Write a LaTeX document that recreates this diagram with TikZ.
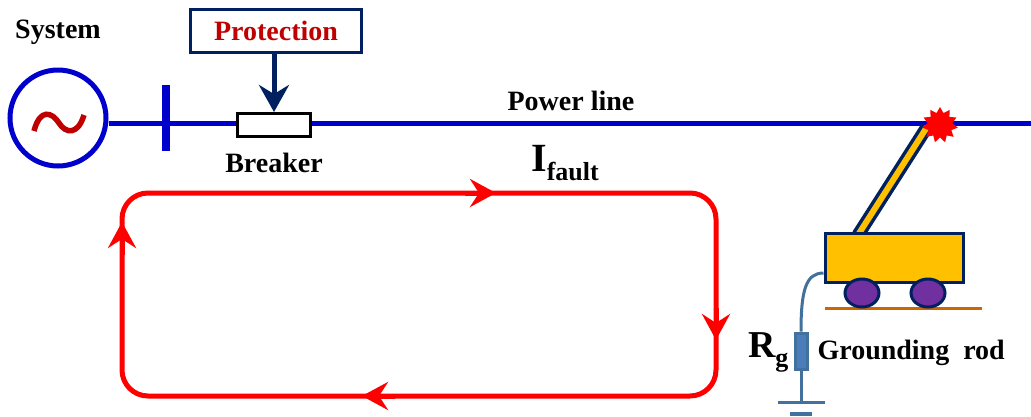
\documentclass[tikz,border=0pt]{standalone}
\usepackage{fontspec}
\setmainfont{Liberation Serif}
\usetikzlibrary{arrows.meta}
\usetikzlibrary{shapes.geometric}
\definecolor{lineblue}{RGB}{0,0,204}
\definecolor{navy}{RGB}{0,32,96}
\definecolor{darkred}{RGB}{192,0,0}
\definecolor{faultred}{RGB}{255,0,0}
\definecolor{gold}{RGB}{255,192,0}
\definecolor{wheelpurple}{RGB}{112,48,160}
\definecolor{earth}{RGB}{204,102,0}
\definecolor{steel}{RGB}{65,113,156}
\definecolor{steelfill}{RGB}{74,126,187}

\begin{document}
\begin{tikzpicture}[x=1pt, y=-1pt,
  lbl/.style={font=\fontsize{28}{32}\selectfont\bfseries},
  wire/.style={lineblue, line width=5pt},
  flow/.style={faultred, line width=5pt},
  flowtip/.style={faultred, line width=5pt, -{Stealth[length=26pt, width=28pt, inset=9pt]}}]
  \useasboundingbox (0,0) rectangle (1031,416);

  % Source and bus
  \node[circle, draw=lineblue, line width=5pt, minimum size=96pt, inner sep=0] (gen) at (58,118) {};
  \draw[darkred, line width=5.5pt]
    (34,131) .. controls (40,108) and (52,112) .. (59,123) .. controls (66,134) and (78,135) .. (84,115);
  \node[lbl] (sys) at (58,32) {System};
  \draw[lineblue, line width=8pt] (166,85) -- (166,151);

  % Breaker with its relay
  \node[draw, line width=3pt, fill=white, minimum width=73pt, minimum height=23pt, inner sep=0] (brk) at (274,125) {};
  \node[lbl, below=12pt] (brklbl) at (brk.south) {Breaker};
  \node[draw=navy, line width=3pt, minimum width=171pt, minimum height=43pt, inner sep=0,
        lbl, text=darkred] (prot) at (276,31) {Protection};
  \draw[navy, line width=5pt, -{Stealth[length=27pt, width=30pt, inset=9pt]}] (prot.south -| brk.north) -- (brk.north);

  % Power line
  \coordinate (lineend) at (1031,123);
  \draw[wire] (gen.east |- 0,123) -- (brk.west |- 0,123);
  \draw[wire] (brk.east |- 0,123) -- (lineend);
  \node[lbl] (pline) at (571,101) {Power line};

  % Fault current loop
  \draw[flow, rounded corners=26pt] (122,193) rectangle (716,396);
  \draw[flowtip] (465,193) -- (496,193);
  \draw[flowtip] (716,308) -- (716,340);
  \draw[flowtip] (395,396) -- (362,396);
  \draw[flowtip] (122,255) -- (122,222);
  \node[font=\fontsize{40}{44}\selectfont\bfseries] (ifault) at (565,163)
    {I\raisebox{-9pt}{\fontsize{26}{28}\selectfont fault}};

  % Truck with boom touching the line
  \draw[navy, line width=13pt] (858,235) -- (927,127);
  \draw[gold, line width=6pt] (858,235) -- (927,127);
  \node[star, star points=11, star point ratio=1.45, fill=faultred, minimum size=36pt, inner sep=0] (spark) at (940,125) {};
  \node[draw=navy, line width=3pt, fill=gold, minimum width=138pt, minimum height=49pt, inner sep=0] (body) at (894,258) {};
  \draw[earth, line width=3pt] (825,308) -- (982,308);
  \draw[navy, line width=3pt, fill=wheelpurple] (862,293) ellipse (17 and 14);
  \draw[navy, line width=3pt, fill=wheelpurple] (928,293) ellipse (17 and 14);

  % Grounding rod
  \node[draw=steel, line width=3pt, fill=steelfill, minimum width=12pt, minimum height=36pt, inner sep=0] (rg) at (801,351) {};
  \draw[steel, line width=3pt] (body.west |- 0,273) .. controls (806,273) and (801,290) .. (rg.north);
  \coordinate (earthpt) at (801,402);
  \draw[steel, line width=3pt] (rg.south) -- (earthpt);
  \draw[steel, line width=3pt] (778,402) -- (825,402);
  \draw[steel, line width=4pt] (790,414) -- (812,414);
  \node[font=\fontsize{38}{42}\selectfont\bfseries, anchor=east] (rglbl) at (792,352)
    {R\raisebox{-9pt}{\fontsize{26}{28}\selectfont g}};
  \node[lbl, anchor=west] (rodlbl) at (814,353) {Grounding~~rod};
\end{tikzpicture}
\end{document}
